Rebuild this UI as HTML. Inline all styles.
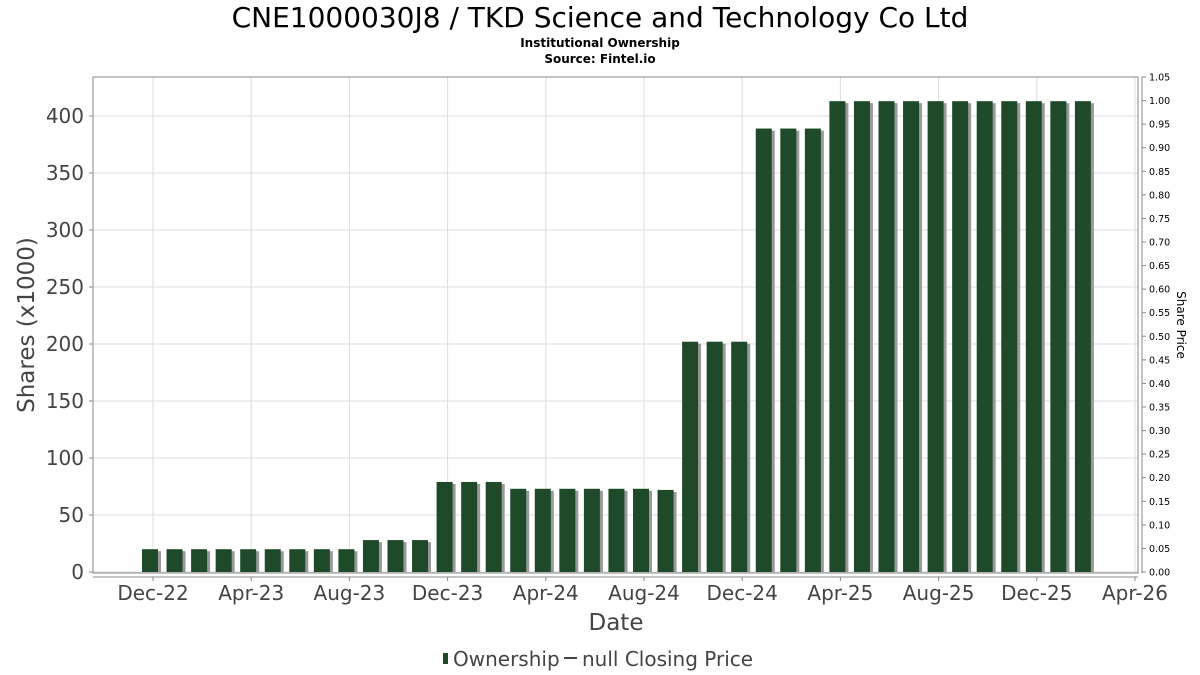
<!DOCTYPE html>
<html><head><meta charset="utf-8"><style>
body{margin:0;background:#fff;}
svg{display:block;font-family:"DejaVu Sans","Liberation Sans",sans-serif;}
</style></head><body>
<svg id="chart" width="1200" height="675" viewBox="0 0 1200 675">
<text x="600" y="27" text-anchor="middle" font-size="28" fill="#000">CNE1000030J8 / TKD Science and Technology Co Ltd</text>
<text x="600" y="47" text-anchor="middle" font-size="12" font-weight="bold" fill="#000">Institutional Ownership</text>
<text x="600" y="63" text-anchor="middle" font-size="12" font-weight="bold" fill="#000">Source: Fintel.io</text>
<g id="grid"></g>
<g id="bars"></g>
<rect x="93" y="77" width="1045" height="496" fill="none" stroke="#888"/>
<line x1="93" y1="577" x2="1138" y2="577" stroke="#888"/>
<line x1="1142" y1="77" x2="1142" y2="573" stroke="#888"/>
<g id="xticks"></g>
<g id="yticks"></g>
<g id="rticks"></g>
<text x="616" y="630" text-anchor="middle" font-size="23" fill="#444">Date</text>
<text transform="translate(34,325) rotate(-90)" text-anchor="middle" font-size="23" fill="#444">Shares (x1000)</text>
<text transform="translate(1177,325) rotate(90)" text-anchor="middle" font-size="12" fill="#000">Share Price</text>
<g>
<rect x="443" y="653" width="5" height="11" fill="#1f4a2a"/>
<text x="453" y="666" font-size="20" fill="#444">Ownership</text>
<line x1="564" y1="658" x2="577" y2="658" stroke="#444" stroke-width="2"/>
<text x="582" y="666" font-size="20" fill="#444">null Closing Price</text>
</g>
</svg>
<script>
const months = [];
for (let i = 0; i < 39; i++) months.push(i); // month offsets from Dec-22
const shares = [20,20,20,20,20,20,20,20,20,28,28,28,79,79,79,73,73,73,73,73,73,72,202,202,202,389,389,389,413,413,413,413,413,413,413,413,413,413,413];
const xTickLabels = ["Dec-22","Apr-23","Aug-23","Dec-23","Apr-24","Aug-24","Dec-24","Apr-25","Aug-25","Dec-25","Apr-26"];
const xTickMonths = [0,4,8,12,16,20,24,28,32,36,40];
const yTicks = [0,50,100,150,200,250,300,350,400];
const rTicks = [0,0.05,0.10,0.15,0.20,0.25,0.30,0.35,0.40,0.45,0.50,0.55,0.60,0.65,0.70,0.75,0.80,0.85,0.90,0.95,1.00,1.05];

const NS = "http://www.w3.org/2000/svg";
const x = m => 153 + m * 24.55;
const y = v => 572 - v * 1.14;
const ry = p => 572 - p / 1.05 * 495;
function mk(tag, attrs, parent) {
  const e = document.createElementNS(NS, tag);
  for (const k in attrs) e.setAttribute(k, attrs[k]);
  parent.appendChild(e);
  return e;
}
const grid = document.getElementById('grid');
const bars = document.getElementById('bars');
const xt = document.getElementById('xticks');
const yt = document.getElementById('yticks');
const rt = document.getElementById('rticks');

yTicks.forEach(v => {
  const g = mk('line', {x1:93, x2:1138, y1:y(v), y2:y(v), stroke:'#ddd'}, grid);
  
  
  const t = mk('line', {x1:89, x2:93, y1:y(v), y2:y(v), stroke:'#888'}, yt);
  
  
  const l = mk('text', {x:84, y:y(v)+7, 'text-anchor':'end', 'font-size':20, fill:'#444'}, yt);
  l.textContent = v;
  
  
});
xTickMonths.forEach((m, i) => {
  if (x(m) < 1138) {
    const g = mk('line', {x1:x(m), x2:x(m), y1:77, y2:573, stroke:'#ddd'}, grid);
    
    
  }
  const t = mk('line', {x1:x(m), x2:x(m), y1:577, y2:581, stroke:'#888'}, xt);
  
  
  const l = mk('text', {x:x(m), y:600, 'text-anchor':'middle', 'font-size':20, fill:'#444'}, xt);
  l.textContent = xTickLabels[i];
  
  
});
rTicks.forEach(p => {
  const t = mk('line', {x1:1142, x2:1146, y1:ry(p), y2:ry(p), stroke:'#888'}, rt);
  
  
  const l = mk('text', {x:1149, y:ry(p)+3.5, 'font-size':9.5, fill:'#000'}, rt);
  l.textContent = p.toFixed(2);
  
  
});
months.forEach((m, i) => {
  const v = shares[i];
  const cx = x(m);
  const s = mk('rect', {x:cx-8, y:y(v)+2, width:16, height:572-y(v)-2, fill:'#999'}, bars);
  
  
  const b = mk('rect', {x:cx-11, y:y(v), width:16, height:572-y(v), fill:'#1f4a2a'}, bars);
  
  
});
</script>
</body></html>
